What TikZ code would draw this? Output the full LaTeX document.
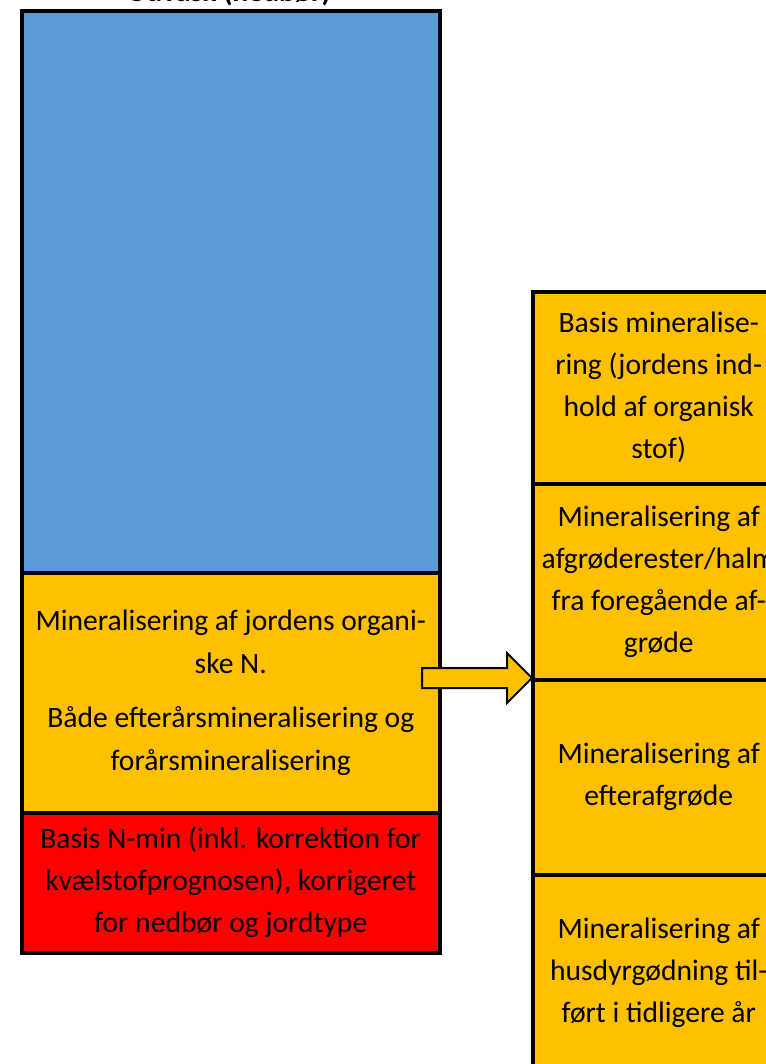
\documentclass[tikz,border=0pt]{standalone}
\usepackage{fontspec}
\setmainfont{Carlito}
\definecolor{cblue}{HTML}{5B9BD5}
\definecolor{corange}{HTML}{FFC000}
\definecolor{cred}{HTML}{FF0000}
\begin{document}
\begin{tikzpicture}[x=0.75pt,y=-0.75pt,
  box/.style={draw=black,line width=3pt,anchor=north west,inner sep=0pt,align=center,
    font=\fontsize{22.2}{31.5}\selectfont},
  blockarrow/.style={fill=corange,draw=black,line width=1.5pt,line join=miter}]
\clip (0,0) rectangle (766,1064);
% title (cut off at top)
\node[font=\bfseries\fontsize{22.2}{26}\selectfont,anchor=base] (title) at (229,1) {Udvask (nedbør)};
% left column
\node[box,fill=cblue,minimum width=417.5*0.75pt,minimum height=562.5*0.75pt] (blue) at (20,8.5) {};
\node[box,fill=corange,minimum width=417.5*0.75pt,minimum height=239.5*0.75pt,
  font=\fontsize{22.2}{32.5}\selectfont] (orgN) at (20,571)
  {Mineralisering af jordens organi-\\ske N.\\[8pt]Både efterårsmineralisering og\\forårsmineralisering};
\node[box,fill=cred,minimum width=417.5*0.75pt,minimum height=140*0.75pt] (nmin) at (20,810.5)
  {Basis N-min (inkl. korrektion for\\kvælstofprognosen), korrigeret\\for nedbør og jordtype};
% right column
\node[box,fill=corange,minimum width=252.5*0.75pt,minimum height=192.5*0.75pt] (r1) at (530.5,289.5)
  {Basis mineralise-\\ring (jordens ind-\\hold af organisk\\stof)};
\node[box,fill=corange,minimum width=252.5*0.75pt,minimum height=195.5*0.75pt] (r2) at (530.5,482)
  {Mineralisering af\\afgrøderester/halm\\fra foregående af-\\grøde};
\node[box,fill=corange,minimum width=252.5*0.75pt,minimum height=195.5*0.75pt] (r3) at (530.5,677.5)
  {Mineralisering af\\efterafgrøde};
\node[box,fill=corange,minimum width=252.5*0.75pt,minimum height=195.5*0.75pt] (r4) at (530.5,873)
  {Mineralisering af\\husdyrgødning til-\\ført i tidligere år};
% block arrow
\draw[blockarrow] (422,668) -- (507,668) -- (507,653) -- (532,678) -- (507,703) -- (507,688) -- (422,688) -- cycle;
\end{tikzpicture}
\end{document}
